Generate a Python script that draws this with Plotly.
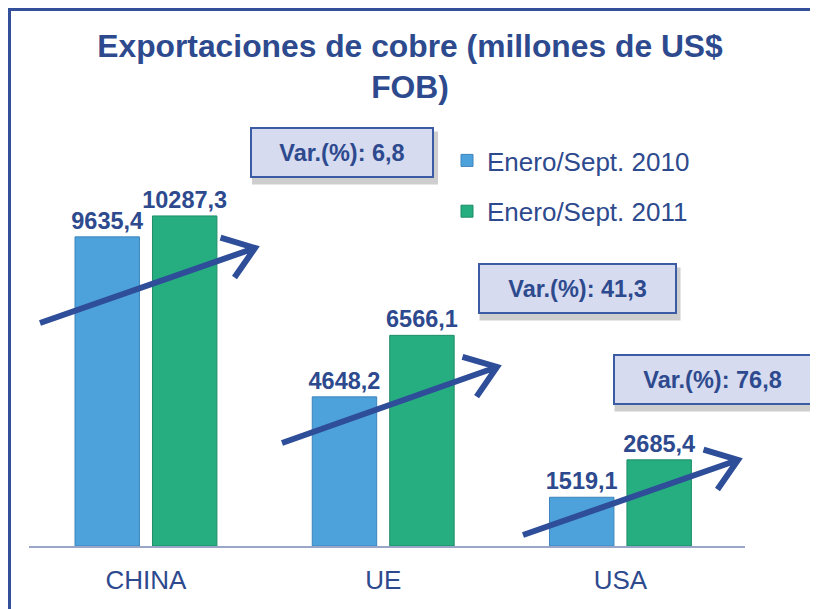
import math
import plotly.graph_objects as go

# ---- data ----
categories = ["CHINA", "UE", "USA"]
series_names = ["Enero/Sept. 2010", "Enero/Sept. 2011"]
values_2010 = [9635.4, 4648.2, 1519.1]
values_2011 = [10287.3, 6566.1, 2685.4]
labels_2010 = ["9635,4", "4648,2", "1519,1"]
labels_2011 = ["10287,3", "6566,1", "2685,4"]
variation_labels = ["Var.(%): 6,8", "Var.(%): 41,3", "Var.(%): 76,8"]

# ---- geometry helpers (reference pixels -> paper) ----
W, H = 818, 609
OFF = 8  # page body margin
PL, PR, PB = 29, 745, 546  # plot left/right/baseline in reference pixels
PH = 385
ML = PL - OFF
MR = W - (PR - OFF)
MB = H - (PB - OFF)
MT = H - MB - PH
PW = W - ML - MR


def px(x):
    return (x - OFF - ML) / PW


def py(y):
    return (H - MB - (y - OFF)) / PH


NAVY = "#2E4A8E"
ARROW = "#2F4E99"
FONT = "Liberation Sans, Arial, sans-serif"

fig = go.Figure()
fig.add_trace(go.Bar(
    x=categories, y=values_2010, name=series_names[0], legendgroup="a",
    marker=dict(color="#4EA2DC", line=dict(color="#3C84BC", width=1)),
    text=labels_2010, textposition="outside", cliponaxis=False,
    constraintext="none",
    textfont=dict(family=FONT, size=23.5, color=NAVY, weight="bold"),
))
fig.add_trace(go.Bar(
    x=categories, y=values_2011, name=series_names[1], legendgroup="b",
    marker=dict(color="#27AE80", line=dict(color="#1E8D66", width=1)),
    text=labels_2011, textposition="outside", cliponaxis=False,
    constraintext="none",
    textfont=dict(family=FONT, size=23.5, color=NAVY, weight="bold"),
))

shapes = []
# outer frame (as close to the page corner as the page allows)
shapes.append(dict(type="rect", xref="paper", yref="paper",
                   x0=px(OFF + 1.5), x1=px(840), y0=py(OFF + 1.5), y1=py(660),
                   line=dict(color="#34509A", width=3), fillcolor="rgba(0,0,0,0)",
                   layer="below"))

# arrows (pixel geometry)
arrows_px = [((40, 323), (255, 248)), ((282, 443), (497, 367)), ((523, 535), (738, 460))]


def arrow_path(p0, p1, wing=36, ang=36):
    (x0, y0), (x1, y1) = p0, p1
    dx, dy = x1 - x0, y1 - y0
    n = math.hypot(dx, dy)
    bx, by = -dx / n, -dy / n
    pts = []
    for s in (1, -1):
        a = math.radians(ang * s)
        wx = bx * math.cos(a) - by * math.sin(a)
        wy = bx * math.sin(a) + by * math.cos(a)
        pts.append((x1 + wx * wing, y1 + wy * wing))
    P = lambda x, y: f"{px(x):.5f},{py(y):.5f}"
    return (f"M{P(x0, y0)} L{P(x1, y1)} M{P(*pts[0])} L{P(x1, y1)} L{P(*pts[1])}")


for p0, p1 in arrows_px:
    shapes.append(dict(type="path", xref="paper", yref="paper",
                       path=arrow_path(p0, p1),
                       line=dict(color=ARROW, width=6), fillcolor="rgba(0,0,0,0)",
                       layer="above"))

# variation boxes (pixel geometry: center x, center y, width, height)
boxes_px = [(342, 152, 184, 51), (577, 288, 199, 51), (712, 379, 199, 51)]
annotations = []
for (cx, cy, bw, bh), txt in zip(boxes_px, variation_labels):
    # soft shadow
    shapes.append(dict(type="rect", xref="paper", yref="paper",
                       x0=px(cx - bw / 2 + 2), x1=px(cx + bw / 2 + 4),
                       y0=py(cy - bh / 2 + 5), y1=py(cy + bh / 2 + 7),
                       line=dict(width=0), fillcolor="rgba(60,60,60,0.25)",
                       layer="above"))
    annotations.append(dict(
        x=px(cx), y=py(cy), xref="paper", yref="paper", showarrow=False,
        text=txt, width=bw - 6, height=bh - 6, borderpad=1,
        bgcolor="#D6DBF0", bordercolor="#3B5BA5", borderwidth=2,
        font=dict(family=FONT, size=23.5, color=NAVY, weight="bold"),
        xanchor="center", yanchor="middle",
    ))

fig.update_layout(
    width=W, height=H,
    paper_bgcolor="white", plot_bgcolor="white",
    margin=dict(l=ML, r=MR, t=MT, b=MB),
    barmode="group", bargap=0.347, bargroupgap=0.168,
    title=dict(text="Exportaciones de cobre (millones de US$<br>FOB)",
               x=402 / W, xanchor="center", xref="container",
               y=1 - 49 / H, yanchor="top", yref="container",
               font=dict(family=FONT, size=31.8, color=NAVY, weight="bold")),
    font=dict(family=FONT, color=NAVY),
    xaxis=dict(showgrid=False, showline=True, linecolor="#9AA6C8", linewidth=2,
               range=[-0.493, 2.525],
               ticks="", tickfont=dict(family=FONT, size=26, color=NAVY),
               ticklabelstandoff=10),
    yaxis=dict(range=[0, 12000], visible=False, showgrid=False),
    legend=dict(x=px(447), y=py(137), xanchor="left", yanchor="top",
                xref="paper", yref="paper",
                font=dict(family=FONT, size=26, color=NAVY),
                tracegroupgap=14, bgcolor="rgba(0,0,0,0)"),
    shapes=shapes,
    annotations=annotations,
)

fig.write_html("out.html")
